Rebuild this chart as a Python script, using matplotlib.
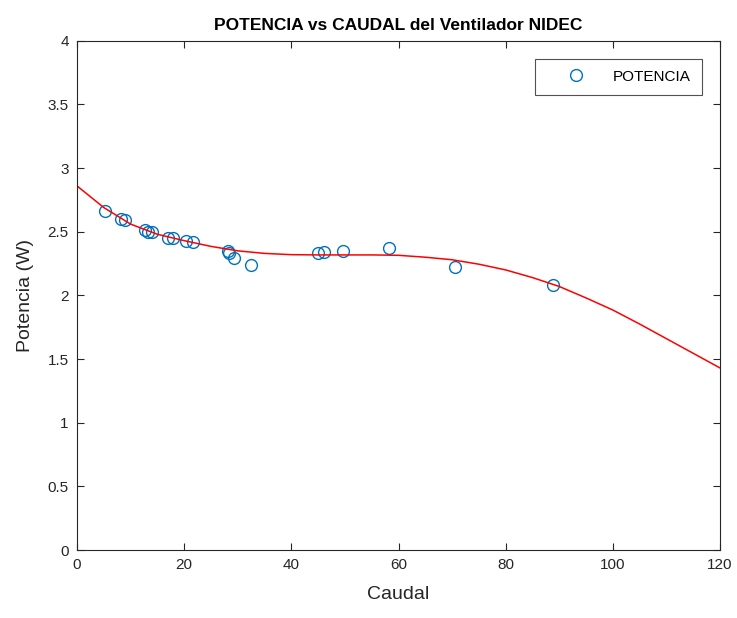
import numpy as np
import matplotlib.pyplot as plt

plt.rcParams['font.family'] = ['Liberation Sans', 'DejaVu Sans']

# Measured points
caudal = [5.2, 8.2, 9.0, 12.7, 13.2, 14.0, 17.0, 17.9, 20.3, 21.6,
          28.2, 28.4, 29.3, 32.5, 45.0, 46.1, 49.6, 58.2, 70.5, 88.8]
potencia = [2.66, 2.60, 2.59, 2.51, 2.50, 2.50, 2.45, 2.45, 2.43, 2.42,
            2.35, 2.33, 2.29, 2.24, 2.33, 2.34, 2.35, 2.37, 2.22, 2.08]

# fitted curve
caudal_fit = [0, 5, 10, 15, 20, 25, 30, 35, 40, 45, 50, 55, 60, 65, 70,
              75, 80, 85, 90, 95, 100, 105, 110, 115, 120]
potencia_fit = [2.86, 2.69, 2.56, 2.48, 2.43, 2.385, 2.35, 2.33, 2.32,
                2.318, 2.318, 2.318, 2.315, 2.30, 2.28, 2.245, 2.20, 2.14,
                2.07, 1.98, 1.885, 1.775, 1.66, 1.545, 1.43]

fig = plt.figure(figsize=(7.37, 6.18), dpi=100)
ax = fig.add_axes([0.1045, 0.110, 0.8725, 0.824])

ax.plot(caudal, potencia, 'o', mfc='none', mec=(0, 0.447, 0.741),
        ms=8.5, mew=1.0, label='POTENCIA')
ax.plot(caudal_fit, potencia_fit, '-', color='red', lw=1.1)

ax.set_xlim(0, 120)
ax.set_ylim(0, 4)
ax.set_xticks(np.arange(0, 121, 20))
ax.set_yticks(np.arange(0, 4.01, 0.5))
ax.set_yticklabels(['0', '0.5', '1', '1.5', '2', '2.5', '3', '3.5', '4'])
ax.tick_params(direction='in', length=5, labelsize=11, colors='#262626',
               top=True, right=True, pad=6)
for s in ax.spines.values():
    s.set_color('#262626')
    s.set_linewidth(0.8)

ax.set_title('POTENCIA vs CAUDAL del Ventilador NIDEC', fontsize=12.5,
             fontweight='bold', pad=8)
ax.set_xlabel('Caudal', fontsize=14, color='#262626', labelpad=10)
ax.set_ylabel('Potencia (W)', fontsize=14, color='#262626', labelpad=10)

leg = ax.legend(loc='upper right', fontsize=11, fancybox=False,
                edgecolor='#262626', borderpad=0.7, handlelength=4.0,
                handletextpad=0.4, borderaxespad=1.2)
leg.get_frame().set_linewidth(0.8)

fig.savefig('out.png', dpi=100)
